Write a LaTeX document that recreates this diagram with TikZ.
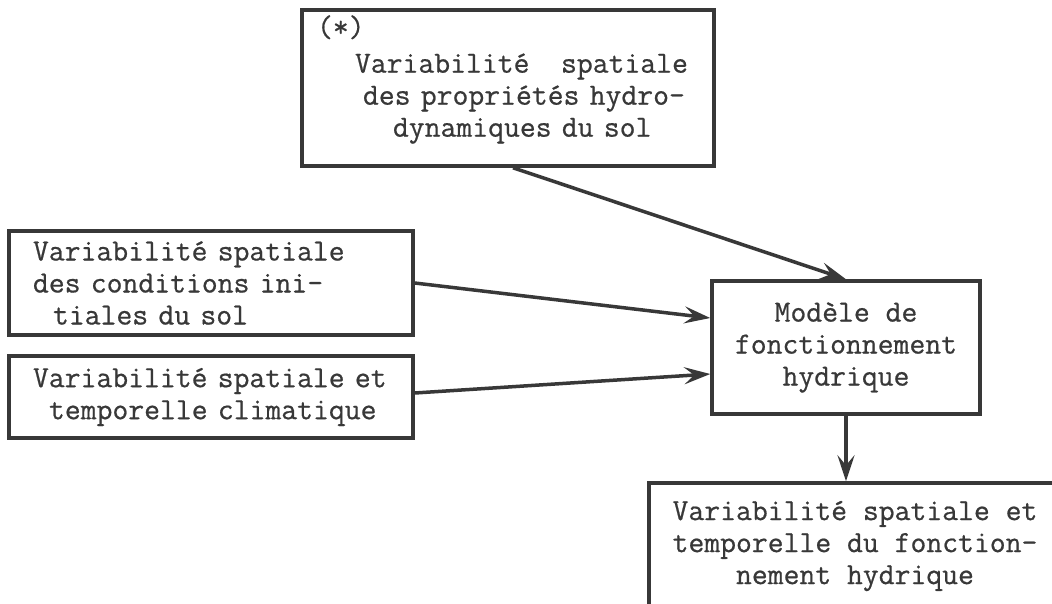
\documentclass[tikz,border=0pt]{standalone}
\usepackage{fontspec}
\newfontfamily\typewriter{Latin Modern Mono}[FakeBold=0.6]
\usetikzlibrary{arrows.meta}
\definecolor{ink}{HTML}{383838}
\tikzset{
  frame/.style={draw=ink, line width=3.5pt, rectangle, inner ysep=0pt},
  txt/.style={font=\typewriter\fontsize{30.8}{32}\selectfont, text=ink},
  link/.style={draw=ink, line width=3.5pt,
    -{Stealth[length=26pt,width=17pt,inset=10pt]}},
}
\begin{document}
\begin{tikzpicture}[x=1pt,y=-1pt]
  \useasboundingbox (0,0) rectangle (1052,603);
  \fill[white] (0,0) rectangle (1052,603);
  \clip (0,0) rectangle (1052,603);

  % soil hydrodynamic properties
  \node[frame, txt, minimum width=412pt, minimum height=156pt,
        text width=390pt, inner xsep=11pt, align=left] (hydro) at (508,88)
    {\hspace*{4pt}(*)\\[4pt]
     \hspace*{42pt}Variabilité\hspace*{31.6pt}spatiale\\
     \hspace*{50pt}des propriétés hydro-\\
     \hspace*{80pt}dynamiques du sol\rule[-24pt]{0pt}{24pt}};

  % initial conditions
  \node[frame, txt, minimum height=104pt, text width=374pt, inner xsep=15pt,
        align=left] (init) at (211,283)
    {\hspace*{9pt}Variabilité spatiale\\
     \hspace*{9pt}des conditions ini-\\
     \hspace*{29pt}tiales du sol};

  % climate
  \node[frame, txt, minimum height=82pt, text width=374pt, inner xsep=15pt,
        align=left] (clim) at (211,397)
    {\hspace*{9pt}Variabilité spatiale et\\
     \hspace*{25pt}temporelle climatique};

  % water model
  \node[frame, txt, minimum width=268pt, minimum height=133pt, align=center]
    (model) at (846,347.5) {Modèle de\\fonctionnement\\hydrique};

  % output
  \node[frame, txt, minimum width=412pt, minimum height=126pt, align=center]
    (out) at (855,546)
    {Variabilité spatiale et\\temporelle du fonction-\\nement hydrique};

  \draw[link] ([xshift=5pt]hydro.south) -- (model.north);
  \draw[link] (init.east) -- ([yshift=29.5pt]model.west);
  \draw[link] ([yshift=4pt]clim.east) -- ([yshift=-26.5pt]model.west);
  \draw[link] (model.south) -- (model.south |- out.north);
\end{tikzpicture}
\end{document}
